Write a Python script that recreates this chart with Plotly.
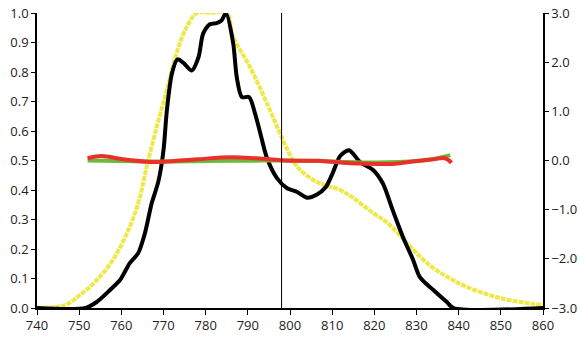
import plotly.graph_objects as go

# Emission spectrum (left axis, normalised intensity)
black_x = [740, 751.5, 754.2, 757.3, 759.7, 762, 764, 765.6, 767.2, 768.8, 770, 770.8,
           772, 773.3, 774.8, 776.7, 778.3, 779.4, 781, 782.6, 783.8, 784.8, 786.5,
           787.4, 788.6, 790.3, 791.7, 793, 794.5, 796.9, 799.3, 801.6, 804, 806.4,
           808.5, 810.2, 811.9, 814, 816.6, 819.7, 822, 824.4, 826.8, 829.2, 830.8,
           834, 837.2, 838.8, 860]
black_y = [0, 0, 0.021, 0.061, 0.095, 0.152, 0.186, 0.254, 0.355, 0.43, 0.535, 0.67,
           0.795, 0.843, 0.83, 0.805, 0.85, 0.93, 0.962, 0.966, 0.975, 1.0, 0.90,
           0.78, 0.715, 0.715, 0.66, 0.59, 0.51, 0.44, 0.406, 0.394, 0.374, 0.385,
           0.41, 0.46, 0.515, 0.535, 0.495, 0.468, 0.423, 0.33, 0.24, 0.163, 0.105,
           0.061, 0.02, 0, 0]

# Reference band (left axis)
yellow_x = [740, 744, 747, 750.2, 754.2, 758, 762, 764.4, 766, 768.4, 770.8, 773.1,
            775.5, 777.9, 781, 785, 786.5, 790.5, 794.5, 798.3, 800.7, 802.4, 806.4,
            811.9, 815, 819.7, 823, 826.8, 830.8, 834, 838, 842, 849.8, 857.6, 860]
yellow_y = [0, 0.003, 0.012, 0.044, 0.095, 0.163, 0.275, 0.376, 0.478, 0.614, 0.739,
            0.864, 0.953, 1.0, 1.0, 1.0, 0.92, 0.817, 0.695, 0.57, 0.50, 0.468, 0.427,
            0.40, 0.373, 0.322, 0.29, 0.235, 0.175, 0.135, 0.1, 0.071, 0.034, 0.014,
            0.01]

# Deviation traces (right axis)
red_x = [752, 755.3, 760.4, 766, 770, 778, 786, 792, 800.7, 807, 812.6, 820.6, 824.4,
         828.5, 834, 836.8, 838.3]
red_y = [0.045, 0.09, 0.025, -0.025, -0.025, 0.025, 0.065, 0.045, -0.005, -0.005,
         -0.045, -0.07, -0.07, -0.025, 0.025, 0.045, -0.045]
green_x = [752, 760, 770, 780, 790, 800, 810, 820, 826, 832.5, 838]
green_y = [0.0, -0.01, -0.02, -0.01, -0.005, 0.0, -0.02, -0.04, -0.03, 0.01, 0.11]

marker_wavelength = 798
x_ticks = list(range(740, 861, 10))
left_ticks = [i / 10 for i in range(11)]
right_ticks = [-3.0, -2.0, -1.0, 0.0, 1.0, 2.0, 3.0]

fig = go.Figure()
fig.add_trace(go.Scatter(x=green_x, y=green_y, yaxis="y2", mode="lines",
                         line=dict(color="#6cb83c", width=4, shape="spline")))
fig.add_trace(go.Scatter(x=red_x, y=red_y, yaxis="y2", mode="lines",
                         line=dict(color="#ea3129", width=4, shape="spline")))
fig.add_trace(go.Scatter(x=yellow_x, y=yellow_y, mode="lines",
                         line=dict(color="#eee84a", width=4, shape="spline",
                                   dash="5px,1px")))
fig.add_trace(go.Scatter(x=black_x, y=black_y, mode="lines",
                         line=dict(color="#000000", width=4, shape="spline",
                                   smoothing=0.8)))

fig.add_shape(type="line", x0=marker_wavelength, x1=marker_wavelength, y0=0, y1=1,
              xref="x", yref="y", line=dict(color="#000000", width=1))

axis_font = dict(family="Open Sans", size=13, color="#222222")
fig.update_layout(
    width=580, height=342,
    margin=dict(l=37, r=37, t=13, b=34),
    paper_bgcolor="white", plot_bgcolor="white",
    showlegend=False,
    font=axis_font,
    xaxis=dict(range=[740, 860], tickvals=x_ticks, showgrid=False, zeroline=False,
               showline=True, linecolor="#000000", linewidth=1.5, ticks="outside",
               ticklen=5, tickcolor="#000000", tickfont=axis_font, automargin=False),
    yaxis=dict(range=[0, 1.0], tickvals=left_ticks, tickformat=".1f", showgrid=False,
               zeroline=False, showline=True, linecolor="#000000", linewidth=1.5,
               ticks="outside", ticklen=4, tickcolor="#000000", tickfont=axis_font,
               automargin=False),
    yaxis2=dict(range=[-3, 3], tickvals=right_ticks, tickformat=".1f", overlaying="y",
                side="right", showgrid=False, zeroline=False, showline=True,
                linecolor="#000000", linewidth=1.5, ticks="outside", ticklen=4,
                tickcolor="#000000", tickfont=axis_font, automargin=False),
)

fig.write_html("out.html")
